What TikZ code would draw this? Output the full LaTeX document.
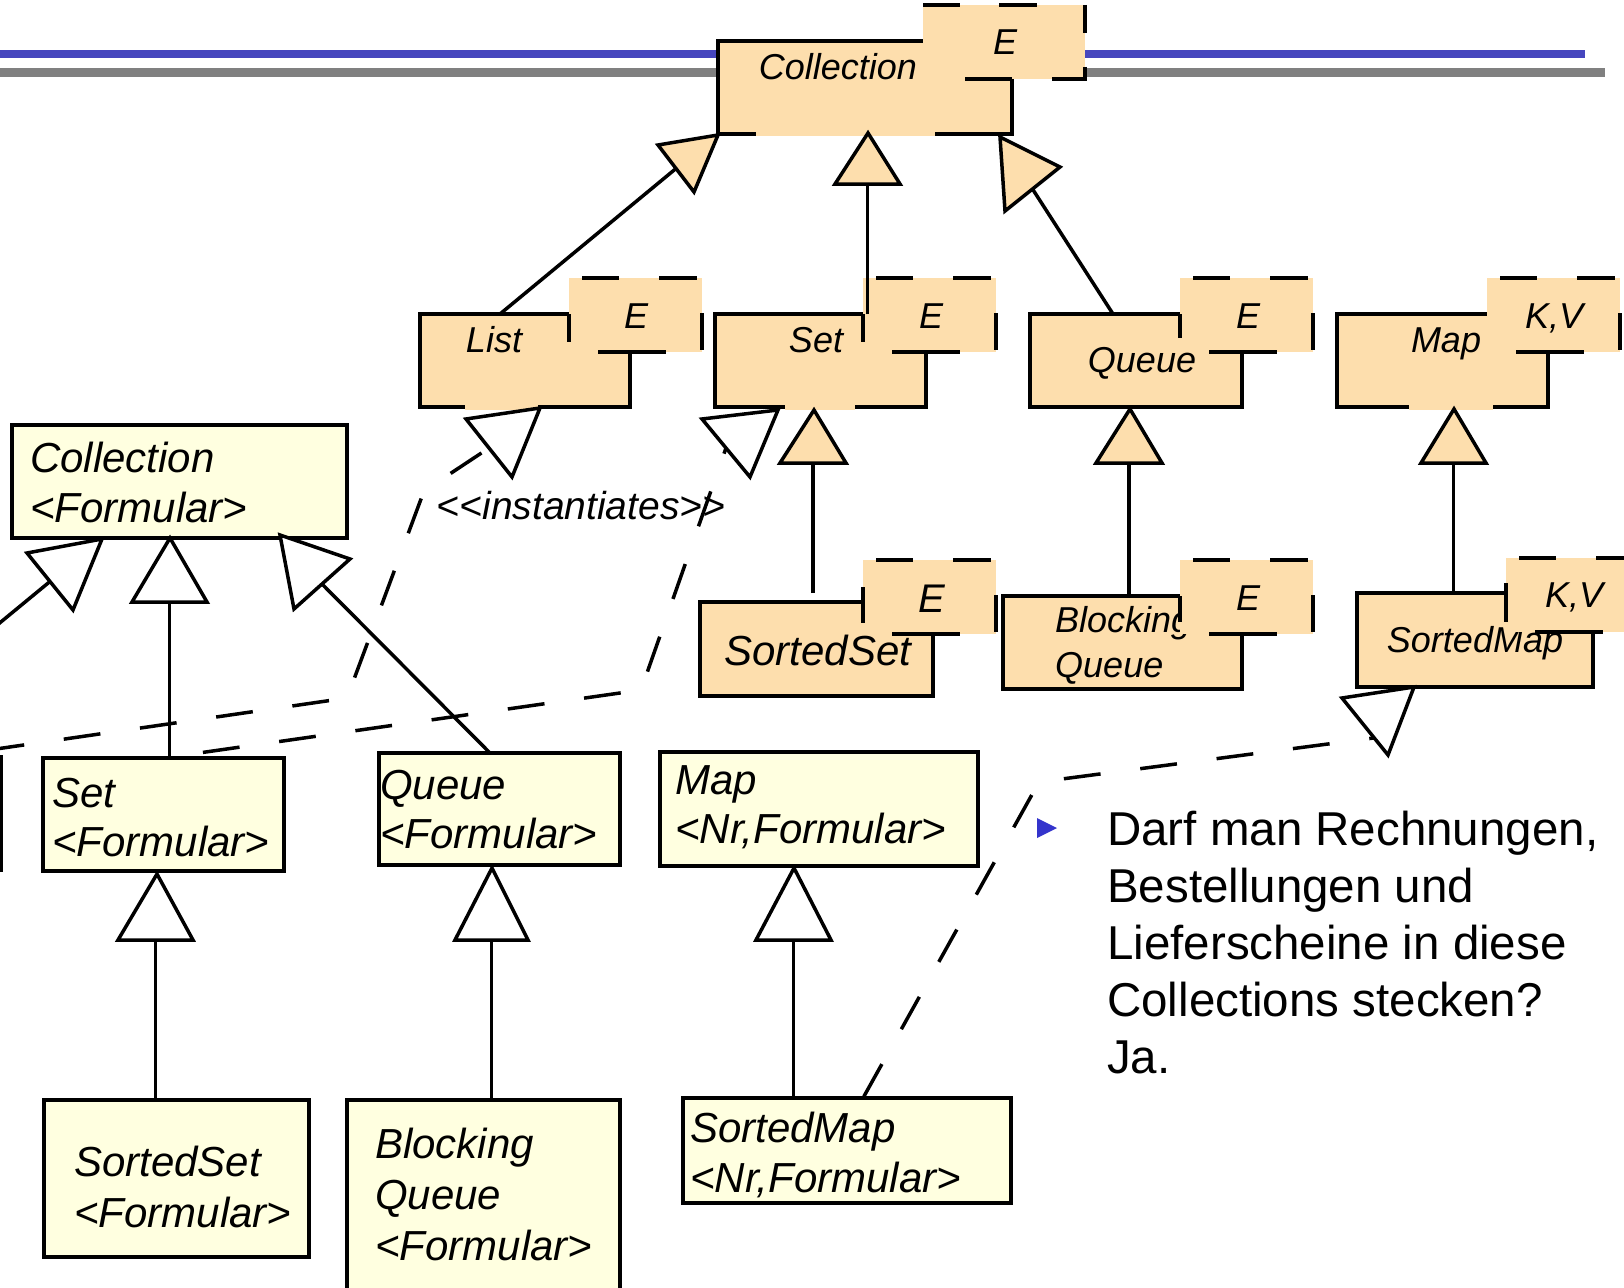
\documentclass[tikz,border=0pt]{standalone}
\usepackage{fontspec}
\setmainfont{Liberation Sans}
\usetikzlibrary{calc}

\definecolor{peach}{HTML}{FDDEAD}
\definecolor{cream}{HTML}{FFFFE0}
\definecolor{ruleblue}{HTML}{4646BE}
\definecolor{rulegray}{HTML}{808080}
\definecolor{bulletblue}{HTML}{3434CC}

\tikzset{
  umlbox/.style={draw=black, line width=3.8pt, inner sep=0pt, outer sep=0pt, anchor=north west},
  peachbox/.style={umlbox, fill=peach},
  creambox/.style={umlbox, fill=cream},
  tdash/.style={line width=3.8pt, line join=miter},
  gen/.style={line width=3.5pt},
  real/.style={line width=3.5pt, dash pattern=on 37pt off 40pt},
  headpeach/.style={fill=peach, draw=black, line width=3.5pt, line join=miter},
  headopen/.style={fill=white, draw=black, line width=3.5pt, line join=miter},
  lbl/.style={inner sep=0pt, font=\fontsize{36pt}{43pt}\selectfont\itshape},
  lblmid/.style={inner sep=0pt, font=\fontsize{40pt}{48pt}\selectfont\itshape},
  lblbig/.style={inner sep=0pt, anchor=base west, font=\fontsize{42pt}{50pt}\selectfont\itshape},
  notetext/.style={inner sep=0pt, anchor=base west, font=\fontsize{47.5pt}{57pt}\selectfont},
  patch/.style={draw=peach, line width=5pt},
}

% template parameter box: name, x, y (top left), left dash start, left dash length
\newcommand\tmplbox[5]{%
  \coordinate (#1) at (#2,#3);
  \fill[peach] (#1) rectangle ++(133,74);
  \draw[tdash] (#1) ++(13,0) -- ++(37,0)
               (#1) ++(90,0) -- ++(38,0)
               (#1) ++(133,35) -- ++(0,37)
               (#1) ++(29,74) -- ++(68,0)
               (#1) ++(0,#4) -- ++(0,#5);
}

\begin{document}
\begin{tikzpicture}[x=1pt, y=-1pt]
\useasboundingbox (0,0) rectangle (1624,1287);
\clip (0,0) rectangle (1624,1287);
\fill[white] (0,0) rectangle (1624,1287);

% header rules
\draw[ruleblue, line width=8pt] (0,54) -- (1585,54);
\draw[rulegray, line width=9pt] (0,72.5) -- (1605,72.5);

% ---------- generic interfaces (peach) ----------
\node[peachbox, minimum width=294pt, minimum height=93pt] (coll) at (718,41) {};
\node[peachbox, minimum width=210pt, minimum height=93pt] (listbox) at (420,314) {};
\node[peachbox, minimum width=211pt, minimum height=93pt] (setbox) at (715,314) {};
\node[peachbox, minimum width=212pt, minimum height=93pt] (queuebox) at (1030,314) {};
\node[peachbox, minimum width=211pt, minimum height=93pt] (mapbox) at (1337,314) {};
\node[peachbox, minimum width=233pt, minimum height=94pt] (ssetbox) at (700,602) {};
\node[peachbox, minimum width=239pt, minimum height=93pt] (bqbox) at (1003,596) {};
\node[peachbox, minimum width=236pt, minimum height=94pt] (smapbox) at (1357,593) {};

% fill showing through the lower borders
\draw[patch] ($(coll.south west)+(38,0)$) -- ++(179,0);
\draw[patch] ($(listbox.south west)+(45,0)$) -- ++(73,0);
\draw[patch] ($(setbox.south west)+(70,0)$) -- ++(70,0);
\draw[patch] ($(mapbox.south west)+(72,0)$) -- ++(84,0);

% class names
\node[lbl, anchor=base] (collname) at (838,80) {Collection};
\node[lbl, anchor=base] (listname) at (494,352) {List};
\node[lbl, anchor=base] (setname) at (816,352) {Set};
\node[lbl, anchor=base] (queuename) at (1142,372) {Queue};
\node[lbl, anchor=base] (mapname) at (1446,352) {Map};
\node[lblbig, anchor=base] (ssetname) at (818,665) {SortedSet};
\node[lbl, anchor=base west] (bqname1) at (1055,632) {Blocking};
\node[lbl, anchor=base west] (bqname2) at (1055,677) {Queue};
\node[lbl, anchor=base] (smapname) at (1475,652) {SortedMap};

% type parameter boxes
\coordinate (collT) at (923,5);
\fill[peach] (collT) rectangle ++(162,74);
\draw[tdash] (collT) -- ++(37,0)
             (collT) ++(76,0) -- ++(38,0)
             (collT) ++(162,0) -- ++(0,28)
             (collT) ++(162,62) -- ++(0,12) -- ++(-33,0)
             (collT) ++(89,74) -- ++(-47,0);
\tmplbox{listT}{569}{278}{36}{28}
\tmplbox{setT}{863}{278}{36}{28}
\tmplbox{queueT}{1180}{278}{36}{24}
\tmplbox{mapT}{1487}{278}{0}{0}
\tmplbox{ssetT}{863}{560}{27}{36}
\tmplbox{bqT}{1180}{560}{36}{26}
\tmplbox{smapT}{1506}{558}{25}{39}

\node[lbl, anchor=base] (collparam) at (1005,55) {E};
\node[lbl, anchor=base] (listparam) at (636,328) {E};
\node[lbl, anchor=base] (setparam) at (931,328) {E};
\node[lbl, anchor=base] (queueparam) at (1248,328) {E};
\node[lbl, anchor=base] (mapparam) at (1554,328) {K,V};
\node[lblmid, anchor=base] (ssetparam) at (932,612) {E};
\node[lbl, anchor=base] (bqparam) at (1248,610) {E};
\node[lbl, anchor=base] (smapparam) at (1574,607) {K,V};

% ---------- concrete instantiations (cream) ----------
\node[creambox, minimum width=331pt, minimum height=113pt] (ylist) at (-330,757) {};
\node[creambox, minimum width=335pt, minimum height=113pt] (ycoll) at (12,425) {};
\node[creambox, minimum width=241pt, minimum height=113pt] (yset) at (43,758) {};
\node[creambox, minimum width=241pt, minimum height=112pt] (yqueue) at (379,753) {};
\node[creambox, minimum width=318pt, minimum height=114pt] (ymap) at (660,752) {};
\node[creambox, minimum width=265pt, minimum height=157pt] (ysset) at (44,1100) {};
\node[creambox, minimum width=273pt, minimum height=230pt] (ybq) at (347,1100) {};
\node[creambox, minimum width=328pt, minimum height=105pt] (ysmap) at (683,1098) {};

\node[lblbig] (ycollA) at (30,472) {Collection};
\node[lblbig] (ycollB) at (30,522) {<Formular>};
\node[lblbig] (ysetA) at (52,807) {Set};
\node[lblbig] (ysetB) at (52,856) {<Formular>};
\node[lblbig] (yqueueA) at (380,799) {Queue};
\node[lblbig] (yqueueB) at (380,848) {<Formular>};
\node[lblbig] (ymapA) at (675,794) {Map};
\node[lblbig] (ymapB) at (675,843) {<Nr,Formular>};
\node[lblbig] (yssetA) at (74,1176) {SortedSet};
\node[lblbig] (yssetB) at (74,1227) {<Formular>};
\node[lblbig] (ybqA) at (375,1158) {Blocking};
\node[lblbig] (ybqB) at (375,1209) {Queue};
\node[lblbig] (ybqC) at (375,1260) {<Formular>};
\node[lblbig] (ysmapA) at (690,1142) {SortedMap};
\node[lblbig] (ysmapB) at (690,1192) {<Nr,Formular>};

% ---------- realization (dashed) ----------
\coordinate (tA7) at (540,408);  \coordinate (tL7) at (466,419);  \coordinate (tR7) at (512,477);
\coordinate (tA8) at (778,410);  \coordinate (tL8) at (702,419);  \coordinate (tR8) at (750,477);
\coordinate (tA9) at (1414,687); \coordinate (tL9) at (1342,698); \coordinate (tR9) at (1388,755);
\coordinate (tM7) at ($(tL7)!0.5!(tR7)$);
\coordinate (tM8) at ($(tL8)!0.5!(tR8)$);
\coordinate (tM9) at ($(tL9)!0.7!(tR9)$);
\coordinate (r1a) at (424,491);  \coordinate (r1b) at (347,698);
\coordinate (r2a) at (641,690);
\coordinate (r3a) at (1039,782);

\draw[real, dash phase=68] (tM7) -- (r1a) -- (r1b) -- ($(ylist.north east)+(-60,0)$);
\draw[real, dash phase=31] (tM8) -- (r2a) -- (yset.north);
\draw[real, dash phase=32] (tM9) -- (r3a) -- ($(ysmap.north west)+(180,0)$);

\node[inner sep=0pt, anchor=base, font=\fontsize{39pt}{46pt}\selectfont\itshape] (inst) at (581,519)
  {<\kern0pt<instantiates>\kern0pt>};

\draw[headopen] (tA7) -- (tL7) -- (tR7) -- cycle;
\draw[headopen] (tA8) -- (tL8) -- (tR8) -- cycle;
\draw[headopen] (tA9) -- (tL9) -- (tR9) -- cycle;

% ---------- generalization, generic ----------
\coordinate (gA1) at (718,135);  \coordinate (gL1) at (658,145);  \coordinate (gR1) at (694,192);
\coordinate (gA2) at (868,133);  \coordinate (gL2) at (835,184);  \coordinate (gR2) at (900,184);
\coordinate (gA3) at (1000,137); \coordinate (gL3) at (1060,167); \coordinate (gR3) at (1005,211);
\coordinate (gA4) at (814,410);  \coordinate (gL4) at (780,463);  \coordinate (gR4) at (846,463);
\coordinate (gA5) at (1130,409); \coordinate (gL5) at (1096,463); \coordinate (gR5) at (1162,463);
\coordinate (gA6) at (1454,409); \coordinate (gL6) at (1421,463); \coordinate (gR6) at (1486,463);
\foreach \i in {1,...,6} { \coordinate (gM\i) at ($(gL\i)!0.5!(gR\i)$); }

\draw[gen] ($(listbox.north west)+(80,0)$) -- (gM1);
\draw[gen] (gM2 |- setbox.north) -- (gM2);
\draw[gen] ($(queuebox.north west)+(83,0)$) -- (gM3);
\draw[gen, shorten <=9pt] (gM4 |- ssetbox.north) -- (gM4);
\draw[gen] (gM5 |- bqbox.north) -- (gM5);
\draw[gen] (gM6 |- smapbox.north) -- (gM6);

\foreach \i in {1,...,6} {
  \draw[headpeach] (gA\i) -- (gL\i) -- (gR\i) -- cycle;
}

% ---------- generalization, instantiated ----------
\coordinate (hA1) at (102,539); \coordinate (hL1) at (27,553);  \coordinate (hR1) at (73,610);
\coordinate (hA2) at (170,538); \coordinate (hL2) at (132,602); \coordinate (hR2) at (207,602);
\coordinate (hA3) at (280,535); \coordinate (hL3) at (350,559); \coordinate (hR3) at (294,609);
\coordinate (hA4) at (157,874); \coordinate (hL4) at (118,940); \coordinate (hR4) at (193,940);
\coordinate (hA5) at (492,868); \coordinate (hL5) at (455,940); \coordinate (hR5) at (528,940);
\coordinate (hA6) at (794,868); \coordinate (hL6) at (756,940); \coordinate (hR6) at (831,940);
\foreach \i in {1,...,6} { \coordinate (hM\i) at ($(hL\i)!0.5!(hR\i)$); }

\draw[gen] ($(ylist.north east)+(-164,0)$) -- (hM1);
\draw[gen] (hM2 |- yset.north) -- (hM2);
\draw[gen] ($(yqueue.north west)+(111,0)$) -- (hM3);
\draw[gen] (hM4 |- ysset.north) -- (hM4);
\draw[gen] (hM5 |- ybq.north) -- (hM5);
\draw[gen] (hM6 |- ysmap.north) -- (hM6);

\foreach \i in {1,...,6} {
  \draw[headopen] (hA\i) -- (hL\i) -- (hR\i) -- cycle;
}

% ---------- question ----------
\fill[bulletblue] (1037,818) -- (1037,838) -- (1057,828) -- cycle;
\node[notetext] (q1) at (1107,845) {Darf man Rechnungen,};
\node[notetext] (q2) at (1107,902) {Bestellungen und};
\node[notetext] (q3) at (1107,959) {Lieferscheine in diese};
\node[notetext] (q4) at (1107,1016) {Collections stecken?};
\node[notetext] (q5) at (1107,1073) {Ja.};
\end{tikzpicture}
\end{document}
